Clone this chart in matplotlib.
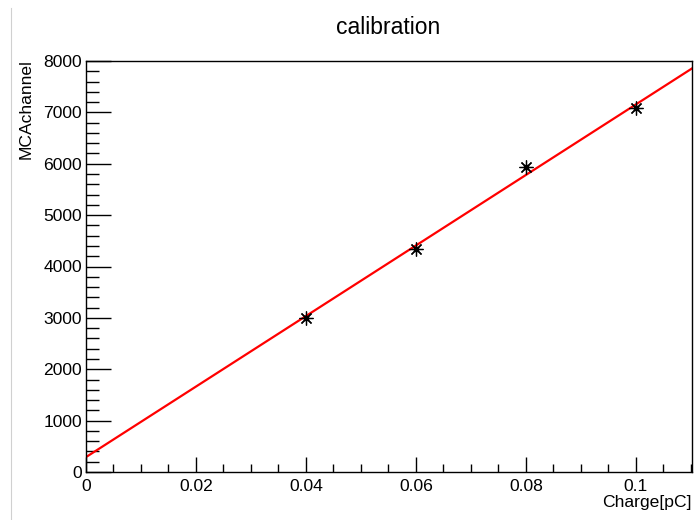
import matplotlib
matplotlib.use("Agg")
import matplotlib.pyplot as plt
from matplotlib.ticker import MultipleLocator
from matplotlib.lines import Line2D
import numpy as np

plt.rcParams['font.family'] = ['Liberation Sans', 'DejaVu Sans']

# data
charge = [0.04, 0.06, 0.08, 0.10]
mca = [3000, 4345, 5940, 7085]
fit_intercept = 290.0
fit_slope = 68650.0
x_range = [0.0, 0.1102]
y_range = [0, 8000]
x_ticks = [0, 0.02, 0.04, 0.06, 0.08, 0.1]
x_ticklabels = ['0', '0.02', '0.04', '0.06', '0.08', '0.1']
title = "calibration"
xlabel = "Charge[pC]"
ylabel = "MCAchannel"

W, H = 694, 520
fig = plt.figure(figsize=(W / 100, H / 100), dpi=100)
L, R, T, B = 86, 692, 61, 472
ax = fig.add_axes([L / W, 1 - B / H, (R - L) / W, (B - T) / H])

xf = np.array(x_range)
ax.plot(xf, fit_intercept + fit_slope * xf, color='#ff0000', lw=1.6, zorder=2)
ax.plot(charge, mca, linestyle='none', marker=(8, 2, 0), ms=10, mew=0.9,
        color='black', zorder=3)
ax.plot(charge, mca, linestyle='none', marker='s', ms=2.5, color='black', zorder=3)

ax.xaxis.set_minor_locator(MultipleLocator(0.005))
ax.yaxis.set_major_locator(MultipleLocator(1000))
ax.yaxis.set_minor_locator(MultipleLocator(200))
ax.set_xticks(x_ticks)
ax.set_xticklabels(x_ticklabels)
ax.set_xlim(*x_range)
ax.set_ylim(*y_range)

ax.tick_params(axis='both', which='both', direction='in', labelsize=12.6,
               top=False, right=False, width=1, color='black')
ax.tick_params(axis='x', which='major', length=11, pad=5)
ax.tick_params(axis='x', which='minor', length=5.5)
ax.tick_params(axis='y', which='major', length=18, pad=3)
ax.tick_params(axis='y', which='minor', length=9)
for s in ax.spines.values():
    s.set_linewidth(1.0)
    s.set_color('black')

fig.text(388 / W, 1 - 34 / H, title, ha='center', va='baseline', fontsize=16.5)
fig.text(R / W, 1 - 507 / H, xlabel, ha='right', va='baseline', fontsize=12.6)
fig.text(26 / W, 1 - 59 / H, ylabel, ha='center', va='top', rotation=90, fontsize=12.6)

fig.add_artist(Line2D([10.5 / W, 10.5 / W], [0, 1 - 8 / H], color='#d0d0d0', lw=0.8,
                      transform=fig.transFigure))

fig.savefig("out.png", dpi=100)
